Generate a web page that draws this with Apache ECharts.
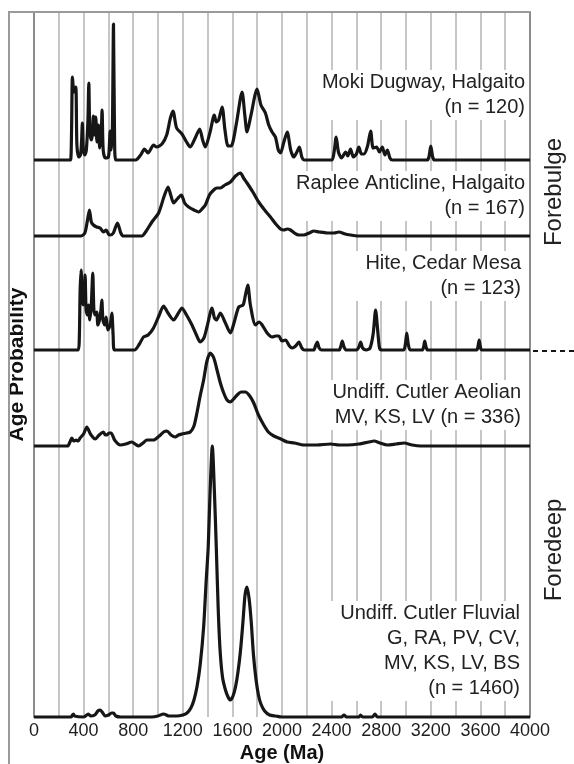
<!DOCTYPE html>
<html>
<head>
<meta charset="utf-8">
<script src="https://cdn.jsdelivr.net/npm/echarts@6/dist/echarts.min.js"></script>
<style>
  html, body { margin: 0; padding: 0; background: #fff; }
  #chart { width: 574px; height: 764px; }
</style>
</head>
<body>
<div id="chart"></div>
<script>
// Detrital zircon age-probability curves, one row per sample set.
// Each curve: ages (Ma) and relative age probability at those ages.

const mokiAge  = [0,280,295,303,310,322,337,346,360,375,384,390,398,410,422,435,442,450,462,470,479,488,498,508,520,530,542,549,558,575,600,608,614,622,632,641,650,660,820,860,891,920,964,990,1032,1070,1100,1121,1150,1193,1230,1260,1300,1336,1360,1382,1420,1454,1470,1489,1517,1540,1565,1590,1630,1678,1700,1718,1750,1799,1830,1866,1893,1920,1947,1970,1988,2015,2042,2070,2095,2120,2140,2160,2180,2400,2420,2437,2455,2480,2513,2530,2553,2575,2600,2620,2640,2661,2690,2715,2735,2763,2785,2809,2830,2850,2870,2890,3170,3185,3200,3215,3230,4000];
const mokiProb = [0,0,0,30,83,68,73,15,3,5,20,37,10,5,10,40,77,30,20,25,44,25,43,18,35,12,25,50,10,2,3,15,29,10,30,136,20,0,0,5,11,7,15,13,16,25,42,49,32,26,18,13,22,31,20,13,28,45,38,40,53,30,14,14,35,68,45,28,45,71,55,47,35,28,23,10,7,18,28,10,3,8,13,3,0,0,8,23,8,2,8,4,11,3,6,13,6,6,14,29,12,13,8,13,5,10,2,0,0,3,14,3,0,0];

const rapleeAge  = [0,380,410,430,447,462,479,505,533,560,582,600,614,640,673,700,722,870,900,951,1005,1050,1081,1105,1126,1155,1188,1215,1247,1290,1328,1355,1382,1415,1449,1475,1503,1540,1584,1625,1665,1690,1718,1765,1812,1860,1907,1950,1988,2015,2042,2069,2100,2136,2176,2220,2257,2300,2365,2420,2459,2510,2553,2607,4000];
const rapleeProb = [0,0,3,15,26,14,11,9,8,4,6,2,1,3,13,3,0,0,4,14,23,40,49,40,33,37,41,33,29,26,24,27,31,41,46,48,48,51,54,60,63,58,53,44,34,26,19,12,7,6,7,6,3,1,1,3,5,4,3,3,4,2,1,0,0];

const hiteAge  = [0,355,365,372,380,388,398,405,412,420,430,439,450,462,474,483,494,506,515,528,540,547,556,570,582,595,605,615,628,638,648,810,850,883,920,964,1010,1045,1080,1126,1160,1193,1230,1274,1310,1341,1370,1395,1436,1455,1471,1503,1540,1584,1615,1651,1686,1705,1724,1745,1786,1815,1840,1880,1921,1950,1974,2000,2028,2060,2082,2110,2136,2160,2180,2255,2270,2284,2300,2320,2460,2475,2486,2500,2520,2600,2620,2634,2650,2680,2710,2735,2755,2770,2785,2800,2980,2995,3006,3018,3035,3130,3142,3151,3162,3175,3570,3580,3590,3600,3610,4000];
const hiteProb = [0,0,10,60,80,50,45,55,75,40,35,45,30,45,77,40,35,38,25,30,40,50,30,25,33,20,22,25,37,15,0,0,6,13,15,22,35,44,37,30,36,42,35,25,15,8,12,23,42,32,30,37,28,17,28,43,45,55,65,45,25,28,25,17,13,14,14,9,10,4,2,4,8,2,0,0,4,8,2,0,0,4,9,3,0,0,3,8,2,0,2,16,40,22,3,0,0,6,17,6,0,0,3,9,3,0,0,3,10,3,0,0];

const aeolianAge  = [0,270,290,305,320,339,355,372,400,426,455,493,525,560,575,587,605,622,650,695,740,789,815,843,880,911,940,964,1010,1045,1072,1105,1139,1165,1193,1230,1260,1290,1314,1340,1368,1395,1422,1450,1476,1503,1530,1557,1584,1610,1638,1670,1705,1740,1772,1810,1853,1890,1934,1990,2042,2100,2176,2280,2392,2460,2527,2620,2700,2742,2790,2850,2920,2985,3050,3119,4000];
const aeolianProb = [0,0,4,8,5,6,5,8,12,19,12,7,11,14,11,11,13,13,6,1,2,4,2,0,3,6,6,6,10,14,15,11,9,11,12,13,14,20,33,50,66,85,93,88,76,63,53,46,44,47,51,54,54,50,43,31,21,14,10,7,4,3,1,1,2,1,1,2,4,5,3,1,2,3,1,0,0];

const fluvialAge  = [0,300,310,318,326,400,425,439,455,490,515,533,550,574,600,625,641,660,700,950,1000,1045,1090,1150,1200,1234,1265,1290,1314,1340,1368,1388,1405,1420,1438,1455,1470,1485,1500,1520,1544,1565,1584,1605,1625,1645,1665,1685,1702,1718,1735,1752,1770,1790,1810,1830,1860,1900,1950,2000,2480,2500,2520,2620,2634,2650,2730,2750,2770,4000];
const fluvialProb = [0,0,2,3,1,0,2,3,1,2,6,7,5,1,2,4,4,1,0,0,1,3,1,1,2,4,9,17,30,52,90,135,170,225,271,225,170,110,68,40,27,20,17,21,30,45,66,95,122,130,118,95,62,38,22,13,6,2,1,0,0,2,0,0,2,0,0,3,0,0];

const sampleNames = [
  'Moki Dugway, Halgaito\n(n = 120)',
  'Raplee Anticline, Halgaito\n(n = 167)',
  'Hite, Cedar Mesa\n(n = 123)',
  'Undiff. Cutler Aeolian\nMV, KS, LV (n = 336)',
  'Undiff. Cutler Fluvial\nG, RA, PV, CV,\nMV, KS, LV, BS\n(n = 1460)'
];
const settingNames = ['Forebulge', 'Foredeep'];
const xTicks = { min: 0, max: 4000, step: 200, labelStep: 400 };

const curves = [
  [mokiAge, mokiProb],
  [rapleeAge, rapleeProb],
  [hiteAge, hiteProb],
  [aeolianAge, aeolianProb],
  [fluvialAge, fluvialProb]
];

// ---- layout (pixels) ----
const W = 574, H = 764;
const plotLeft = 34, plotRight = 530, plotTop = 12;
const rowBaseline = [160, 236, 350, 446, 717];
const labelPos = [ // right edge, top of first line
  [527, 70], [527, 171], [523, 251], [523, 380], [522, 601]
];
const FONT = '"Liberation Sans", Arial, sans-serif';
const INK = '#161616';

const grids = [], xAxes = [], yAxes = [], series = [];
const gridBox = bottomY => ({
  left: plotLeft, right: W - plotRight, top: plotTop, bottom: H - bottomY,
  outerBoundsMode: 'none', containLabel: false
});

// background grid carrying the age axis and vertical rules
grids.push(gridBox(rowBaseline[4]));
xAxes.push({
  gridIndex: 0, type: 'value', min: xTicks.min, max: xTicks.max, interval: xTicks.step,
  axisLine: { show: false }, axisTick: { show: false },
  splitLine: { show: true, lineStyle: { color: '#c6c6c6', width: 2 } },
  axisLabel: {
    margin: 5, fontSize: 18, fontFamily: FONT, color: '#1e1e1e',
    formatter: v => (v % xTicks.labelStep === 0 ? String(v) : '')
  },
  name: 'Age (Ma)', nameLocation: 'middle', nameGap: 26, nameMoveOverlap: false,
  nameTextStyle: { fontSize: 20, fontWeight: 'bold', fontFamily: FONT, color: '#111' }
});
yAxes.push({
  gridIndex: 0, type: 'value', min: 0, max: 1, position: 'left',
  axisLine: { show: true, lineStyle: { color: '#8c8c8c', width: 2 } },
  axisTick: { show: false }, axisLabel: { show: false }, splitLine: { show: false },
  name: 'Age Probability', nameLocation: 'middle', nameGap: 6, nameRotate: 90, nameMoveOverlap: false,
  nameTextStyle: { fontSize: 21, fontWeight: 'bold', fontFamily: FONT, color: '#111' }
});
yAxes.push({
  gridIndex: 0, type: 'value', min: 0, max: 1, position: 'right',
  axisLine: { show: true, lineStyle: { color: '#8c8c8c', width: 2 } },
  axisTick: { show: false }, axisLabel: { show: false }, splitLine: { show: false }
});

// one overlapping grid per sample, sharing the top edge, ending at its baseline
curves.forEach(([ages, probs], i) => {
  const g = grids.length;
  const span = rowBaseline[i] - plotTop;
  grids.push(gridBox(rowBaseline[i]));
  xAxes.push({ gridIndex: g, type: 'value', min: xTicks.min, max: xTicks.max, show: false });
  yAxes.push({ gridIndex: g, type: 'value', min: 0, max: span, show: false });
  series.push({
    type: 'line', xAxisIndex: g, yAxisIndex: g + 1,
    data: ages.map((a, k) => [a, probs[k]]),
    showSymbol: false, symbol: 'none', smooth: 0.25, clip: false,
    lineStyle: { color: INK, width: 3.2, join: 'round' },
    silent: true, z: 5
  });
});

const graphics = [
  // outer frame
  { type: 'polyline', shape: { points: [[9, H], [9, plotTop], [plotRight, plotTop]] },
    style: { stroke: '#9a9a9a', lineWidth: 2, fill: null }, z: 1 },
  // boundary between the two settings
  { type: 'line', shape: { x1: plotRight + 3, y1: 351, x2: W, y2: 351 },
    style: { stroke: INK, lineWidth: 2, lineDash: [5, 4] }, z: 1 },
  { type: 'text', x: 554, y: 192, rotation: Math.PI / 2,
    style: { text: settingNames[0], font: '24px ' + FONT, fill: '#222', align: 'center', verticalAlign: 'middle' }, z: 10 },
  { type: 'text', x: 554, y: 550, rotation: Math.PI / 2,
    style: { text: settingNames[1], font: '24px ' + FONT, fill: '#222', align: 'center', verticalAlign: 'middle' }, z: 10 }
];
sampleNames.forEach((t, i) => {
  graphics.push({
    type: 'text', x: labelPos[i][0], y: labelPos[i][1],
    style: {
      text: t, font: '20px ' + FONT, fill: '#222', align: 'right', verticalAlign: 'top',
      lineHeight: 25, backgroundColor: '#fff', padding: [0, 2, 0, 12]
    },
    z: 10
  });
});

const chart = echarts.init(document.getElementById('chart'), null, { renderer: 'canvas' });
chart.setOption({
  animation: false,
  backgroundColor: '#fff',
  grid: grids, xAxis: xAxes, yAxis: yAxes, series: series,
  graphic: graphics
});
</script>
</body>
</html>
